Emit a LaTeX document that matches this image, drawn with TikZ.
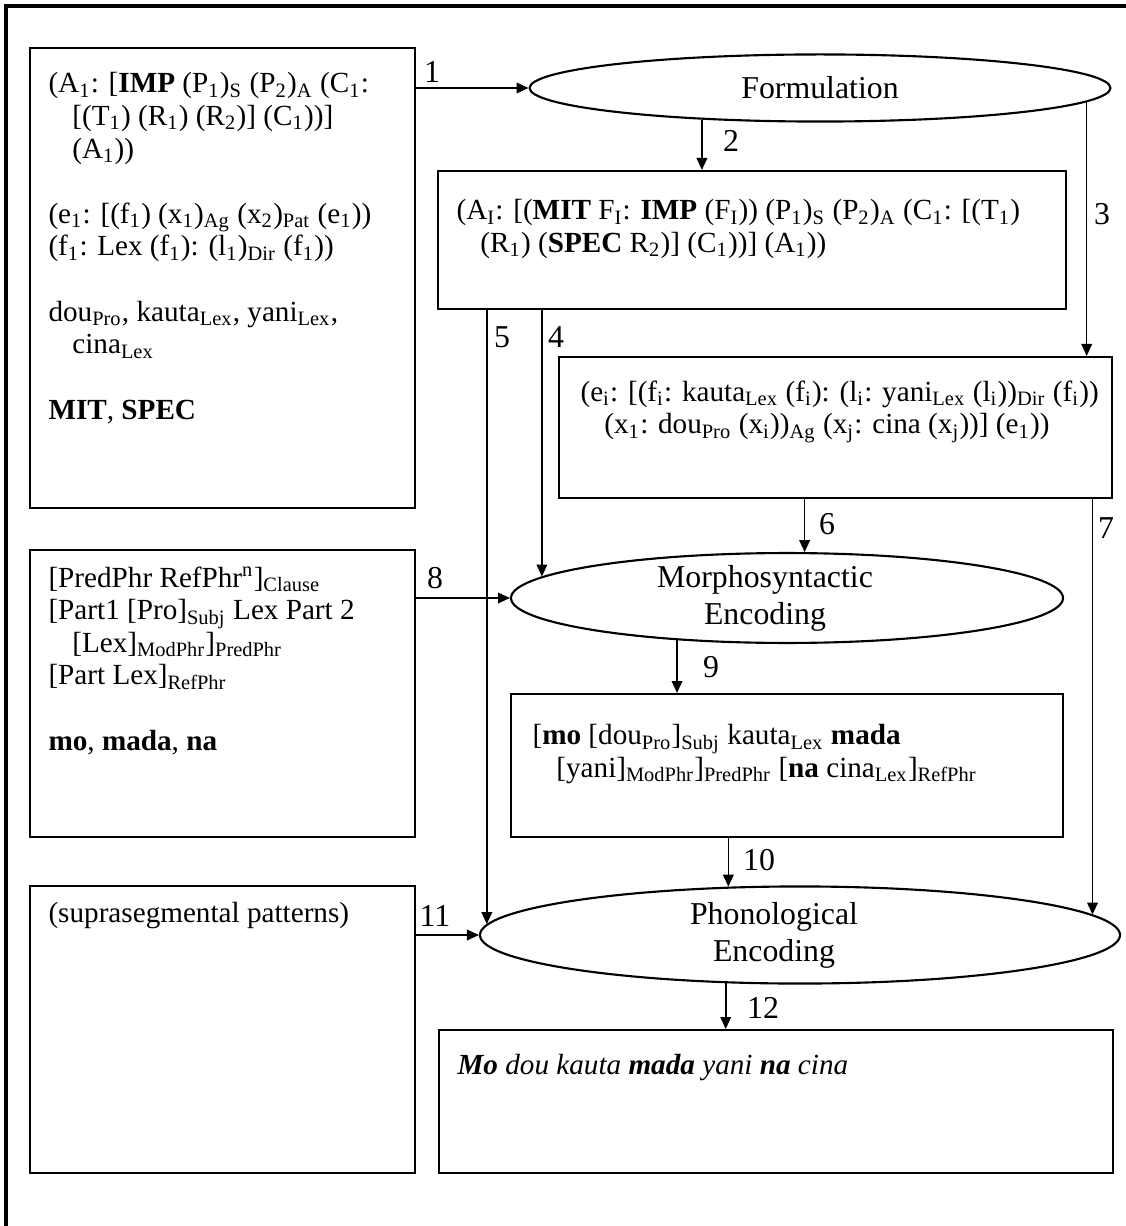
\documentclass[tikz,border=0pt]{standalone}
\usepackage{fontspec}
\setmainfont{Liberation Serif}
\usetikzlibrary{arrows.meta,fit,shapes.geometric}
\newcommand{\lsub}[1]{\textsubscript{#1}}

\begin{document}
\begin{tikzpicture}[x=0.377pt, y=0.377pt,
	box/.style={draw, line width=0.8pt},
	proc/.style={draw, ellipse, line width=0.8pt},
	txt/.style={anchor=north west, align=left, font=\fontsize{11}{12.3}\selectfont},
	flow/.style={-{Triangle[length=4.5pt,width=4pt]}, line width=0.6pt}]
	\tikzstyle{every node}+=[inner sep=0pt, font=\fontsize{12}{12.3}\selectfont]
	\useasboundingbox (0,0) rectangle (1126,-1226);
	% frame
	\draw [black, line width=1.2pt] (6,-1226) -- (6,-6) -- (1126,-6);
	% boxes
	\node (lexicon) [box, fit={(30,-48) (415,-508)}] {};
	\node (templates) [box, fit={(30,-550) (415,-837)}] {};
	\node (patterns) [box, fit={(30,-886) (415,-1173)}] {};
	\node (interp) [box, fit={(438,-171) (1066,-309)}] {};
	\node (repres) [box, fit={(559,-357) (1112,-498)}] {};
	\node (morphout) [box, fit={(511,-694) (1063,-837)}] {};
	\node (phonout) [box, fit={(439,-1030) (1113,-1173)}] {};
	% ellipses
	\node (form) [proc, minimum width=219pt, minimum height=25.3pt] at (820,-88) {Formulation};
	\node (morph) [proc, minimum width=208.1pt, minimum height=33.9pt] at (787,-598) {};
	\node (morphtxt) [align=center] at (765,-598) {Morphosyntactic\\[1.7pt]Encoding};
	\node (phon) [proc, minimum width=241.3pt, minimum height=36.6pt] at (800,-935) {};
	\node (phontxt) [align=center] at (774,-935) {Phonological\\[1.7pt]Encoding};
	% texts
	\node (lextxt) [txt] at (48,-72) {(A\lsub{1}: [\textbf{IMP} (P\lsub{1})\lsub{S} (P\lsub{2})\lsub{A} (C\lsub{1}:\\
		\hspace*{9pt}[(T\lsub{1}) (R\lsub{1}) (R\lsub{2})] (C\lsub{1}))]\\
		\hspace*{9pt}(A\lsub{1}))\\[12.3pt]
		(e\lsub{1}: [(f\lsub{1}) (x\lsub{1})\lsub{Ag} (x\lsub{2})\lsub{Pat} (e\lsub{1}))\\
		(f\lsub{1}: Lex (f\lsub{1}): (l\lsub{1})\lsub{Dir} (f\lsub{1}))\\[12.3pt]
		dou\lsub{Pro}, kauta\lsub{Lex}, yani\lsub{Lex},\\
		\hspace*{9pt}cina\lsub{Lex}\\[12.3pt]
		\textbf{MIT}, \textbf{SPEC}};
	\node (tpltxt) [txt] at (48,-566) {[PredPhr RefPhr\textsuperscript{n}]\lsub{Clause}\\\relax
		[Part1 [Pro]\lsub{Subj} Lex Part 2\\
		\hspace*{9pt}[Lex]\lsub{ModPhr}]\lsub{PredPhr}\\\relax
		[Part Lex]\lsub{RefPhr}\\[12.3pt]
		\textbf{mo}, \textbf{mada}, \textbf{na}};
	\node (pattxt) [txt] at (48,-902) {(suprasegmental patterns)};
	\node (interptxt) [txt] at (456,-199) {(A\lsub{I}: [(\textbf{MIT} F\lsub{I}: \textbf{IMP} (F\lsub{I})) (P\lsub{1})\lsub{S} (P\lsub{2})\lsub{A} (C\lsub{1}: [(T\lsub{1})\\
		\hspace*{9pt}(R\lsub{1}) (\textbf{SPEC} R\lsub{2})] (C\lsub{1}))] (A\lsub{1}))};
	\node (represtxt) [txt] at (580,-380) {(e\lsub{i}: [(f\lsub{i}: kauta\lsub{Lex} (f\lsub{i}): (l\lsub{i}: yani\lsub{Lex} (l\lsub{i}))\lsub{Dir} (f\lsub{i}))\\
		\hspace*{9pt}(x\lsub{1}: dou\lsub{Pro} (x\lsub{i}))\lsub{Ag} (x\lsub{j}: cina (x\lsub{j}))] (e\lsub{1}))};
	\node (morphouttxt) [txt] at (532,-724) {[\textbf{mo} [dou\lsub{Pro}]\lsub{Subj} kauta\lsub{Lex} \textbf{mada}\\
		\hspace*{9pt}[yani]\lsub{ModPhr}]\lsub{PredPhr} [\textbf{na} cina\lsub{Lex}]\lsub{RefPhr}};
	\node (phonouttxt) [txt] at (457,-1054) {\textit{\textbf{Mo} dou kauta \textbf{mada} yani \textbf{na} cina}};
	% connectors
	\draw [flow] (lexicon.east |- form.west) -- (form.west);
	\draw [flow] (form.195) -- (interp.north -| form.195);
	\draw [flow] (form.357.3) -- (repres.north -| form.357.3);
	\draw [flow] (interp.south -| morph.175.35) -- (morph.175.35);
	\draw [flow] (interp.south -| phon.178) -- (phon.178);
	\draw [flow] (repres.south -| morph.69.3) -- (morph.69.3);
	\draw [flow] (repres.south -| phon.4.2) -- (phon.4.2);
	\draw [flow] (templates.east |- morph.west) -- (morph.west);
	\draw [flow] (morph.201.4) -- (morphout.north -| morph.201.4);
	\draw [flow] (morphout.south -| phon.146) -- (phon.146);
	\draw [flow] (patterns.east |- phon.west) -- (phon.west);
	\draw [flow] (phon.213.3) -- (phonout.north -| phon.213.3);
	% numbers
	\node (n1) at (432,-72) {1};
	\node (n2) at (731,-141) {2};
	\node (n3) at (1102,-214) {3};
	\node (n4) at (556,-337) {4};
	\node (n5) at (502,-337) {5};
	\node (n6) at (827,-524) {6};
	\node (n7) at (1106,-528) {7};
	\node (n8) at (435,-578) {8};
	\node (n9) at (711,-667) {9};
	\node (n10) at (759,-860) {10};
	\node (n11) at (435,-916) {11};
	\node (n12) at (763,-1008) {12};
\end{tikzpicture}
\end{document}
